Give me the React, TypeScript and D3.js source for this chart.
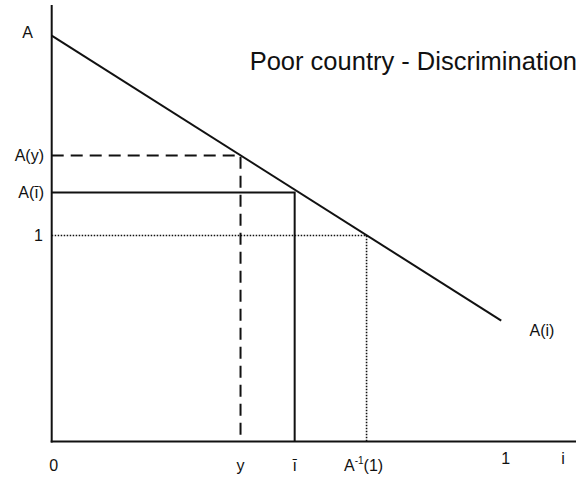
import React from "react";
import * as d3 from "d3";

// Curve A(i): endpoints (i, A)
const curveI = [0, 0.988];
const curveA = [1.97, 0.587];

// marked points on i axis
const markI = { y: 0.415, ibar: 0.534, ainv: 0.692 };
// marked levels on A axis
const markA = { Ay: 1.388, Aibar: 1.209, one: 1 };

const xTickLabels = ["0", "y", "ī", "1", "i"];
const title = "Poor country - Discrimination";

const W = 581;
const H = 487;

export default function App() {
  const x = d3.scaleLinear().domain([0, 1]).range([51.7, 506.7]);
  const y = d3.scaleLinear().domain([0, 1]).range([441.5, 235.5]);
  const line = d3.line<number>().x((_, k) => x(curveI[k])).y((d) => y(d));

  const ink = "#111";
  const fs = 16;
  const ff = "Arial, 'Liberation Sans', Helvetica, sans-serif";
  const x0 = x(0);
  const yAxis = y(0);

  return (
    <svg width={W} height={H} style={{ position: "absolute", left: 0, top: 0, background: "#fff" }} fontFamily={ff}>
      {/* axes */}
      <line x1={x0} x2={x0} y1={5} y2={yAxis + 1} stroke={ink} strokeWidth={2} />
      <line x1={x0 - 1} x2={576} y1={yAxis} y2={yAxis} stroke={ink} strokeWidth={2} />

      {/* curve */}
      <path d={line(curveA) || ""} fill="none" stroke={ink} strokeWidth={2} />

      {/* dashed: A(y) */}
      <path
        d={`M${x0},${y(markA.Ay)}H${x(markI.y)}V${yAxis}`}
        fill="none"
        stroke={ink}
        strokeWidth={2}
        strokeDasharray="12,7"
      />
      {/* solid: A(ibar) */}
      <path
        d={`M${x0},${y(markA.Aibar)}H${x(markI.ibar)}V${yAxis}`}
        fill="none"
        stroke={ink}
        strokeWidth={2}
      />
      {/* dotted: 1 */}
      <path
        d={`M${x0},${y(markA.one)}H${x(markI.ainv)}V${yAxis}`}
        fill="none"
        stroke={ink}
        strokeWidth={1.6}
        strokeDasharray="1.5,1.5"
      />

      {/* y labels */}
      <g fontSize={fs} fill={ink} dominantBaseline="central">
        <text x={33} y={32} textAnchor="end">A</text>
        <text x={44} y={y(markA.Ay)} textAnchor="end">A(y)</text>
        <text x={44} y={y(markA.Aibar)} textAnchor="end">A(ī)</text>
        <text x={43} y={y(markA.one)} textAnchor="end">1</text>
      </g>

      {/* x labels */}
      <g fontSize={fs} fill={ink} dominantBaseline="central" textAnchor="middle">
        <text x={x(0) + 2} y={465}>{xTickLabels[0]}</text>
        <text x={x(markI.y)} y={465}>{xTickLabels[1]}</text>
        <text x={x(markI.ibar)} y={465}>{xTickLabels[2]}</text>
        <text x={x(markI.ainv) - 3} y={465}>
          A<tspan fontSize={10} dy={-5}>-1</tspan>
          <tspan dy={5}>(1)</tspan>
        </text>
        <text x={x(1) - 1} y={458}>{xTickLabels[3]}</text>
        <text x={563} y={458}>{xTickLabels[4]}</text>
      </g>

      <text x={542} y={330} fontSize={fs} fill={ink} dominantBaseline="central" textAnchor="middle">A(i)</text>

      <text x={577} y={61} fontSize={25.5} fill={ink} textAnchor="end" dominantBaseline="central">{title}</text>
    </svg>
  );
}
